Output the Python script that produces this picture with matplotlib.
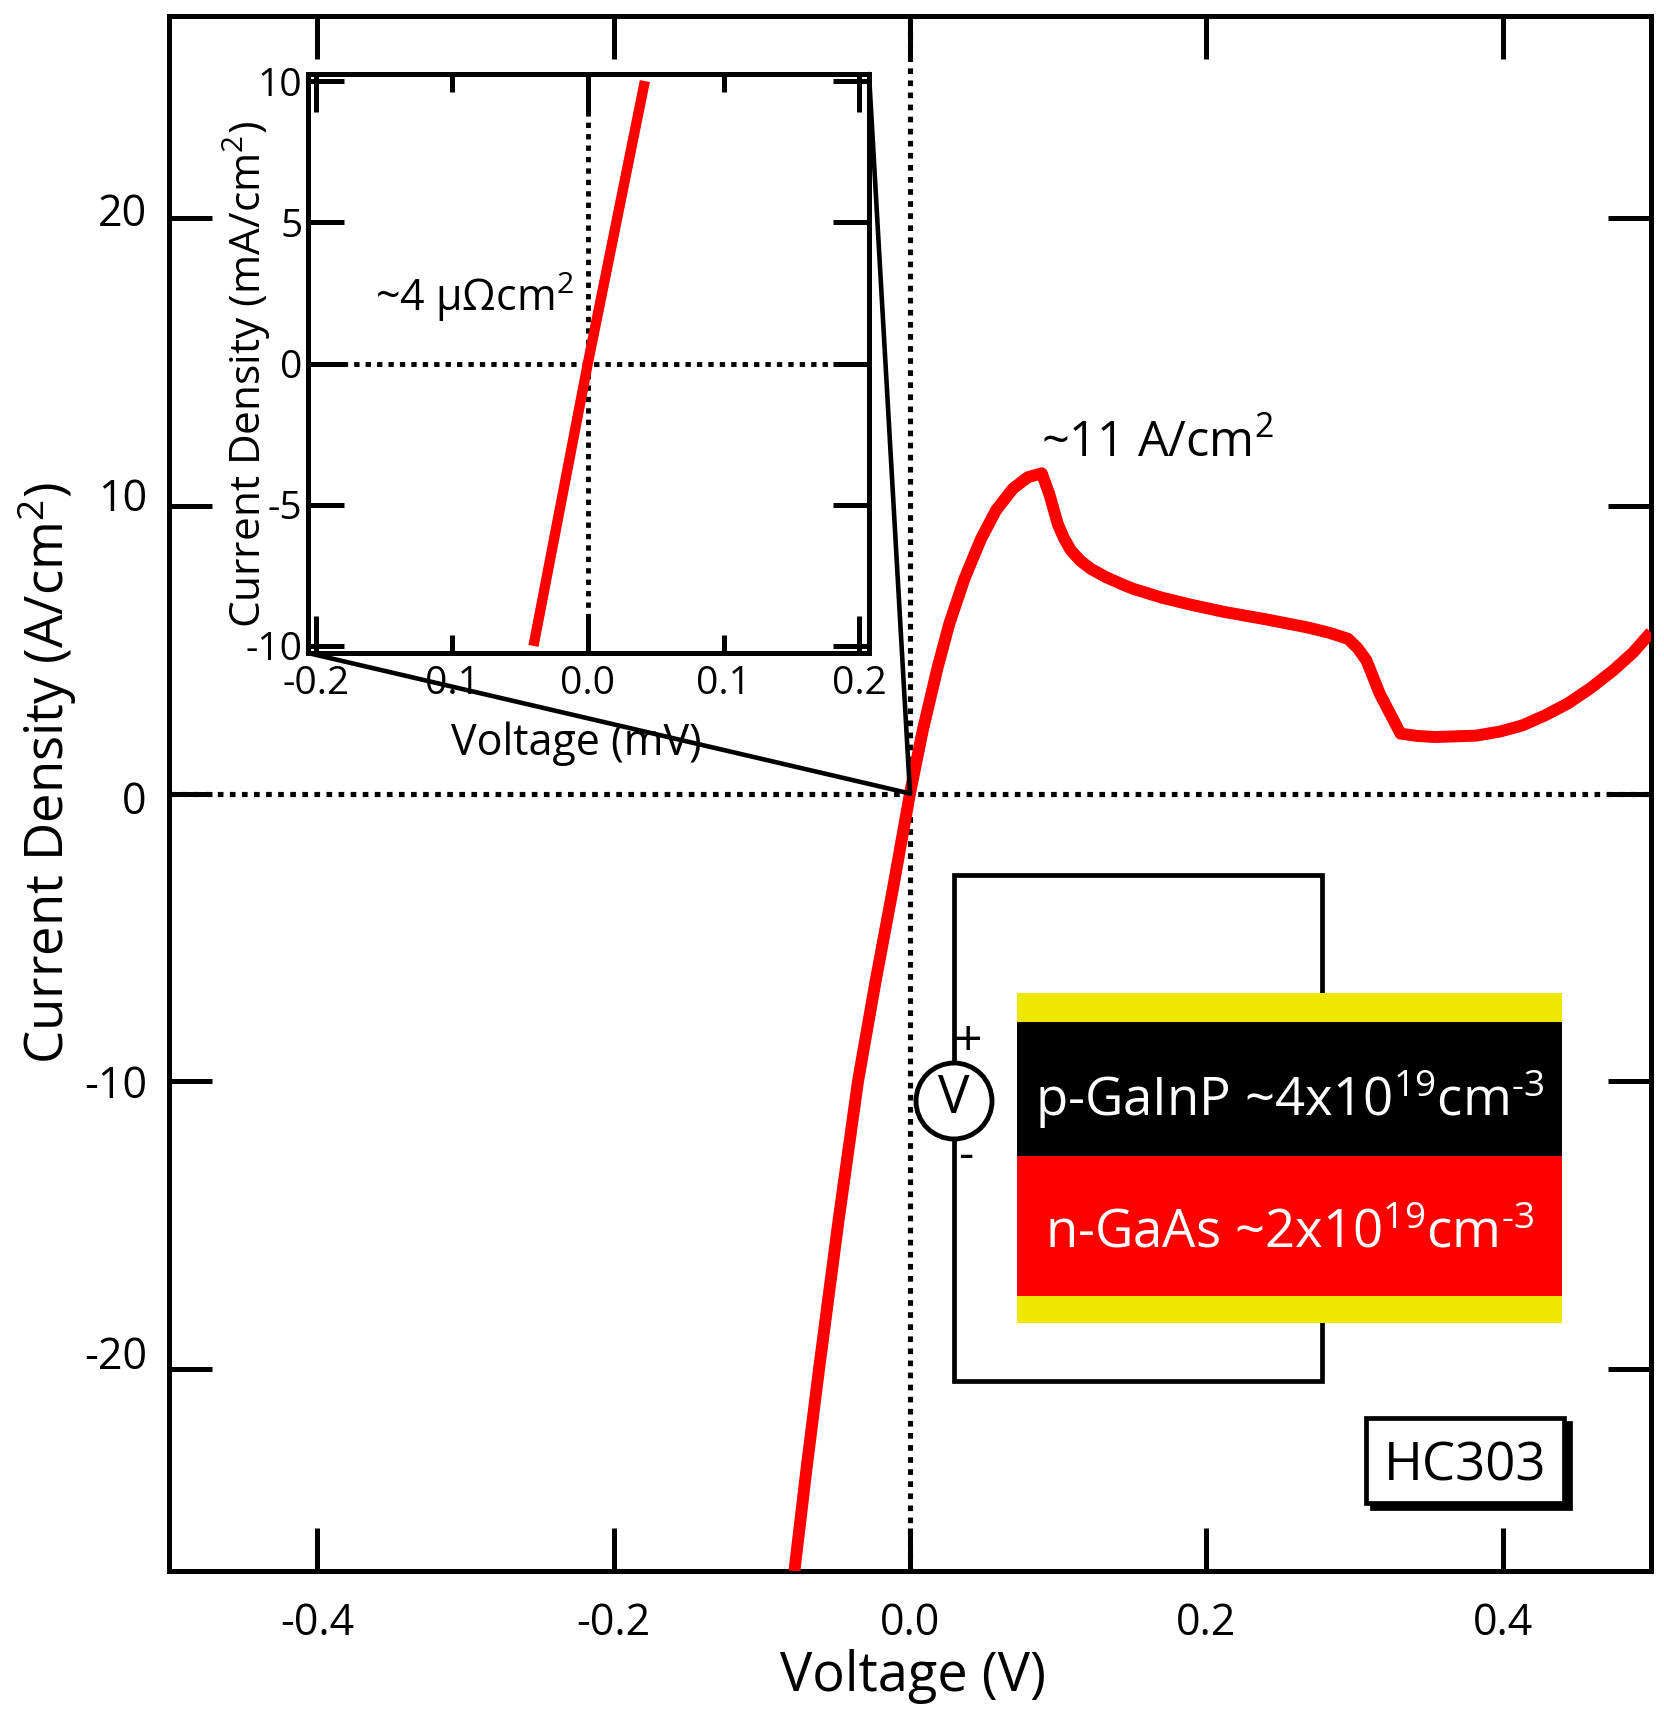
import matplotlib
matplotlib.use('Agg')
import matplotlib.pyplot as plt
from matplotlib.patches import ConnectionPatch, Rectangle, Circle
from matplotlib.transforms import Affine2D

plt.rcParams['font.family'] = ['Open Sans', 'DejaVu Sans']
plt.rcParams['mathtext.default'] = 'regular'
plt.rcParams['axes.unicode_minus'] = False

# main curve
voltage = [-0.078, -0.0697, -0.0614, -0.0484, -0.0351, -0.0235, -0.0115, 0.0, 0.0086, 0.0187, 0.0265, 0.0367, 0.0479, 0.058,
	0.0693, 0.0794, 0.0889, 0.094, 0.0997, 0.104, 0.1086, 0.115, 0.1221, 0.132, 0.1424, 0.151, 0.17, 0.19, 0.2126, 0.24, 0.268, 0.283,
	0.2956, 0.302, 0.308, 0.317, 0.331, 0.342, 0.3543, 0.382, 0.398, 0.413, 0.428, 0.4437, 0.459, 0.4744, 0.488, 0.50]
current = [-27.0, -23.4, -20.0, -14.9, -10.0, -6.6, -3.3, 0.0, 2.19, 4.39, 5.89, 7.45, 8.84, 9.83,
	10.58, 10.98, 11.12, 10.4, 9.36, 8.85, 8.44, 8.08, 7.8, 7.52, 7.28, 7.1, 6.8, 6.55, 6.3, 6.05, 5.77, 5.58,
	5.37, 5.05, 4.62, 3.46, 2.08, 2.0, 1.96, 2.01, 2.15, 2.36, 2.7, 3.12, 3.65, 4.27, 4.9, 5.6]

inset_voltage = [-0.040, 0.0, 0.042]
inset_current = [-10.0, 0.0, 10.0]

main_xticks = [-0.4, -0.2, 0.0, 0.2, 0.4]
main_xlabels = ['-0.4', '-0.2', '0.0', '0.2', '0.4']
main_yticks = [-20, -10, 0, 10, 20]
main_ylabels = ['-20', '-10', '0', '10', '20']

inset_xticks = [-0.2, 0.0, 0.2]
inset_xlabels = ['-0.2', '0.0', '0.2']
inset_xminor = [-0.1, 0.1]
inset_xminor_labels = ['0.1', '0.1']
inset_yticks = [-10, -5, 0, 5, 10]
inset_ylabels = ['-10', '-5', '0', '5', '10']

W, H = 1665, 1718
RED = '#ff0000'
YELLOW = '#eee800'
LW = 3.6
DOTS = (0, (1.1, 1.25))


def make_axes(left, top, right, bottom, **kw):
	return fig.add_axes([left / W, 1 - bottom / H, (right - left) / W, (bottom - top) / H], **kw)


def style(a):
	for s in a.spines.values():
		s.set_linewidth(LW)
	a.tick_params(which='both', direction='in', top=True, right=True, width=LW)


fig = plt.figure(figsize=(W / 100, H / 100), dpi=100)

ax = make_axes(169, 16, 1651, 1571)
ax.set_xlim(-0.5, 0.5)
ax.set_ylim(-27, 27)
style(ax)
ax.set_xticks(main_xticks)
ax.set_xticklabels(main_xlabels)
ax.set_yticks(main_yticks)
ax.set_yticklabels(main_ylabels)
ax.tick_params(which='major', length=31, labelsize=31)
ax.tick_params(axis='x', pad=22)
ax.tick_params(axis='y', pad=16)
# the y labels sit a little off their ticks in the original
for lab, dy in zip(ax.get_yticklabels(), [17, 0, -4, 11, 8]):
	lab.set_transform(lab.get_transform() + Affine2D().translate(0, dy))
ax.axhline(0, color='k', lw=3.7, ls=DOTS, zorder=1)
ax.axvline(0, color='k', lw=3.7, ls=DOTS, zorder=1)
ax.plot(voltage, current, color=RED, lw=8.6, solid_joinstyle='round', solid_capstyle='butt', zorder=3)
ax.set_xlabel('Voltage (V)', fontsize=39)
ax.set_ylabel('Current Density (A/cm$^2$)', fontsize=38)
ax.xaxis.set_label_coords(0.502, -0.05, transform=ax.transAxes)
ax.yaxis.set_label_coords(-0.061, 0.513, transform=ax.transAxes)

axin = make_axes(308, 74, 869, 653, zorder=2)
axin.set_xlim(-0.206, 0.207)
axin.set_ylim(-10.25, 10.25)
style(axin)
axin.set_xticks(inset_xticks)
axin.set_xticklabels(inset_xlabels)
axin.set_xticks(inset_xminor, minor=True)
axin.set_xticklabels(inset_xminor_labels, minor=True)
axin.set_yticks(inset_yticks)
axin.set_yticklabels(inset_ylabels)
axin.tick_params(axis='x', which='major', length=27, labelsize=28, pad=9)
axin.tick_params(axis='x', which='minor', length=13, labelsize=28, pad=9)
axin.tick_params(axis='y', which='major', length=26, labelsize=28, pad=4)
axin.axhline(0, color='k', lw=3.5, ls=DOTS, zorder=1)
axin.axvline(0, color='k', lw=3.5, ls=DOTS, zorder=1)
axin.plot(inset_voltage, inset_current, color=RED, lw=7.4, solid_capstyle='butt', zorder=3)
axin.set_xlabel('Voltage (mV)', fontsize=31)
axin.set_ylabel('Current Density (mA/cm$^2$)', fontsize=30.5)
axin.xaxis.set_label_coords(0.478, -0.118, transform=axin.transAxes)
axin.yaxis.set_label_coords(-0.063, 0.481, transform=axin.transAxes)

# lines from the inset corners down to the origin
for corner in [(1, 1), (0, 0)]:
	fig.add_artist(ConnectionPatch(xyA=corner, coordsA=axin.transAxes, xyB=(0, 0), coordsB=ax.transData,
		color='k', lw=3.3, zorder=5))

# overlay in reference pixels for the device sketch and the notes
ov = fig.add_axes([0, 0, 1, 1], zorder=6)
ov.set_xlim(0, W)
ov.set_ylim(H, 0)
ov.axis('off')
ov.patch.set_alpha(0)

ov.add_patch(Rectangle((954, 875), 368, 506, fill=False, ec='k', lw=3.4, zorder=1))
ov.add_patch(Rectangle((1017, 993), 545, 330, fc=YELLOW, ec='none', zorder=2))
ov.add_patch(Rectangle((1017, 1022), 545, 134, fc='k', ec='none', zorder=3))
ov.add_patch(Rectangle((1017, 1156), 545, 140, fc=RED, ec='none', zorder=3))
ov.add_patch(Circle((954, 1101), 38, fc='w', ec='k', lw=3.5, zorder=4))
ov.text(954, 1099, 'V', fontsize=38, ha='center', va='center', zorder=5)
ov.text(968, 1043, '+', fontsize=36, ha='center', va='center')
ov.text(966, 1156, '-', fontsize=34, ha='center', va='center')
ov.text(1290, 1099, 'p-GaInP ~4x10$^{19}$cm$^{\u20103}$', color='w', fontsize=38, ha='center', va='center', zorder=5)
ov.text(1290, 1234, 'n-GaAs ~2x10$^{19}$cm$^{\u20103}$', color='w', fontsize=38, ha='center', va='center', zorder=5)

ov.add_patch(Rectangle((1372, 1423), 198, 85, fc='k', ec='k', lw=3.4, zorder=2))
ov.add_patch(Rectangle((1366, 1418), 198, 85, fc='w', ec='k', lw=3.4, zorder=3))
ov.text(1465, 1467, 'HC303', fontsize=38, ha='center', va='center', zorder=4)

ov.text(1041, 444, '~11 A/cm$^2$', fontsize=35, ha='left', va='center')
ov.text(375, 297, '~4 µΩcm$^2$', fontsize=31, ha='left', va='center')

fig.savefig('out.png', dpi=100)
